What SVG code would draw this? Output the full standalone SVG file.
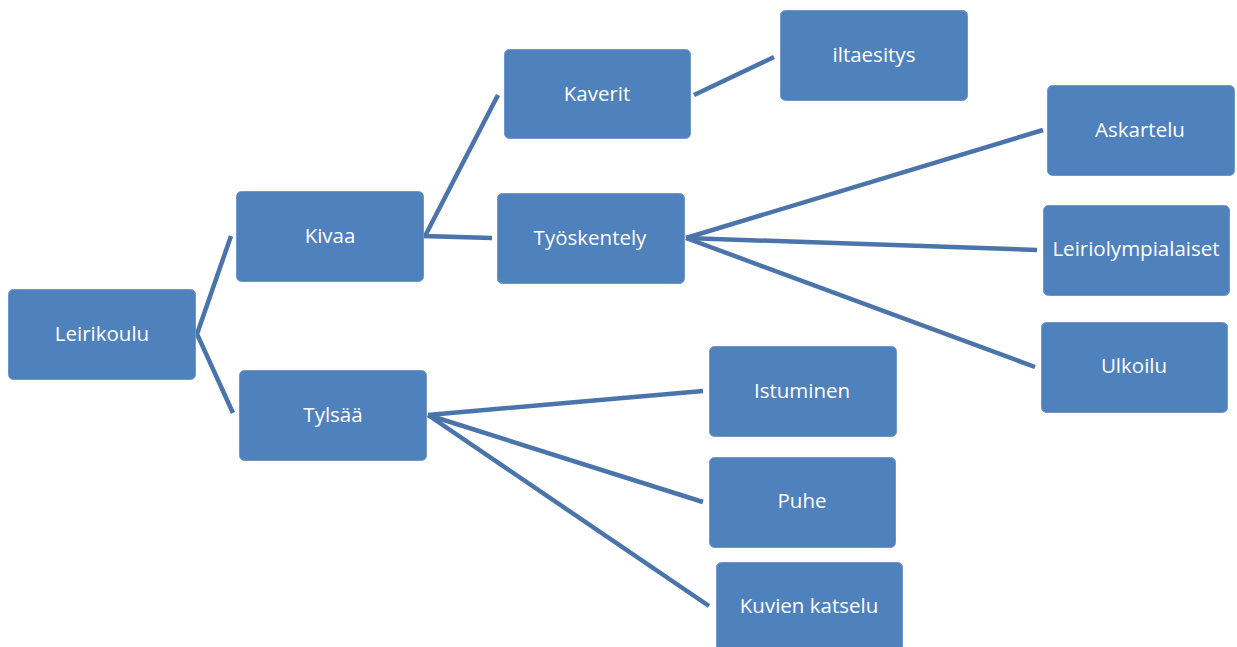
<svg xmlns="http://www.w3.org/2000/svg" width="1237" height="647" viewBox="0 0 1237 647">
<style>
.box{fill:#4f81bd;stroke:#7097c9;stroke-width:1}
.lbl{fill:#ffffff;font-family:"Open Sans","Liberation Sans",Arial,sans-serif;font-size:20.5px;text-anchor:middle;dominant-baseline:central}
.con{stroke:#4a74aa;stroke-width:4.5;fill:none;stroke-linecap:butt;stroke-linejoin:miter}
</style>
<rect width="1237" height="647" fill="#ffffff"/>
<g id="connectors">
<polyline class="con" points="231,236 197,334 233,413"/>
<polyline class="con" points="498,95 425,236 492,238"/>
<line class="con" x1="694" y1="95" x2="774" y2="57"/>
<line class="con" x1="686" y1="238" x2="1043" y2="130"/>
<line class="con" x1="686" y1="238" x2="1037" y2="250"/>
<line class="con" x1="686" y1="238" x2="1035" y2="367"/>
<line class="con" x1="428" y1="415" x2="703" y2="391"/>
<line class="con" x1="428" y1="415" x2="703" y2="502"/>
<line class="con" x1="428" y1="415" x2="709" y2="606"/>
</g>
<g id="leirikoulu"><rect class="box" x="8.5" y="289.5" width="187" height="90" rx="5"/><text class="lbl" x="102" y="333">Leirikoulu</text></g>
<g id="kivaa"><rect class="box" x="236.5" y="191.5" width="187" height="90" rx="5"/><text class="lbl" x="330" y="235">Kivaa</text></g>
<g id="tylsaa"><rect class="box" x="239.5" y="370.5" width="187" height="90" rx="5"/><text class="lbl" x="333" y="414">Tylsää</text></g>
<g id="kaverit"><rect class="box" x="504.5" y="49.5" width="186" height="89" rx="5"/><text class="lbl" x="597" y="93">Kaverit</text></g>
<g id="tyoskentely"><rect class="box" x="497.5" y="193.5" width="187" height="90" rx="5"/><text class="lbl" x="590" y="237">Työskentely</text></g>
<g id="iltaesitys"><rect class="box" x="780.5" y="10.5" width="187" height="90" rx="5"/><text class="lbl" x="874" y="54">iltaesitys</text></g>
<g id="askartelu"><rect class="box" x="1047.5" y="85.5" width="187" height="90" rx="5"/><text class="lbl" x="1140" y="129">Askartelu</text></g>
<g id="leiriolympialaiset"><rect class="box" x="1043.5" y="205.5" width="186" height="90" rx="5"/><text class="lbl" x="1136" y="248">Leiriolympialaiset</text></g>
<g id="ulkoilu"><rect class="box" x="1041.5" y="322.5" width="186" height="90" rx="5"/><text class="lbl" x="1134" y="365">Ulkoilu</text></g>
<g id="istuminen"><rect class="box" x="709.5" y="346.5" width="187" height="90" rx="5"/><text class="lbl" x="802" y="390">Istuminen</text></g>
<g id="puhe"><rect class="box" x="709.5" y="457.5" width="186" height="90" rx="5"/><text class="lbl" x="802" y="500">Puhe</text></g>
<g id="kuvien"><rect class="box" x="716.5" y="562.5" width="186" height="95" rx="5"/><text class="lbl" x="809" y="605">Kuvien katselu</text></g>
</svg>
